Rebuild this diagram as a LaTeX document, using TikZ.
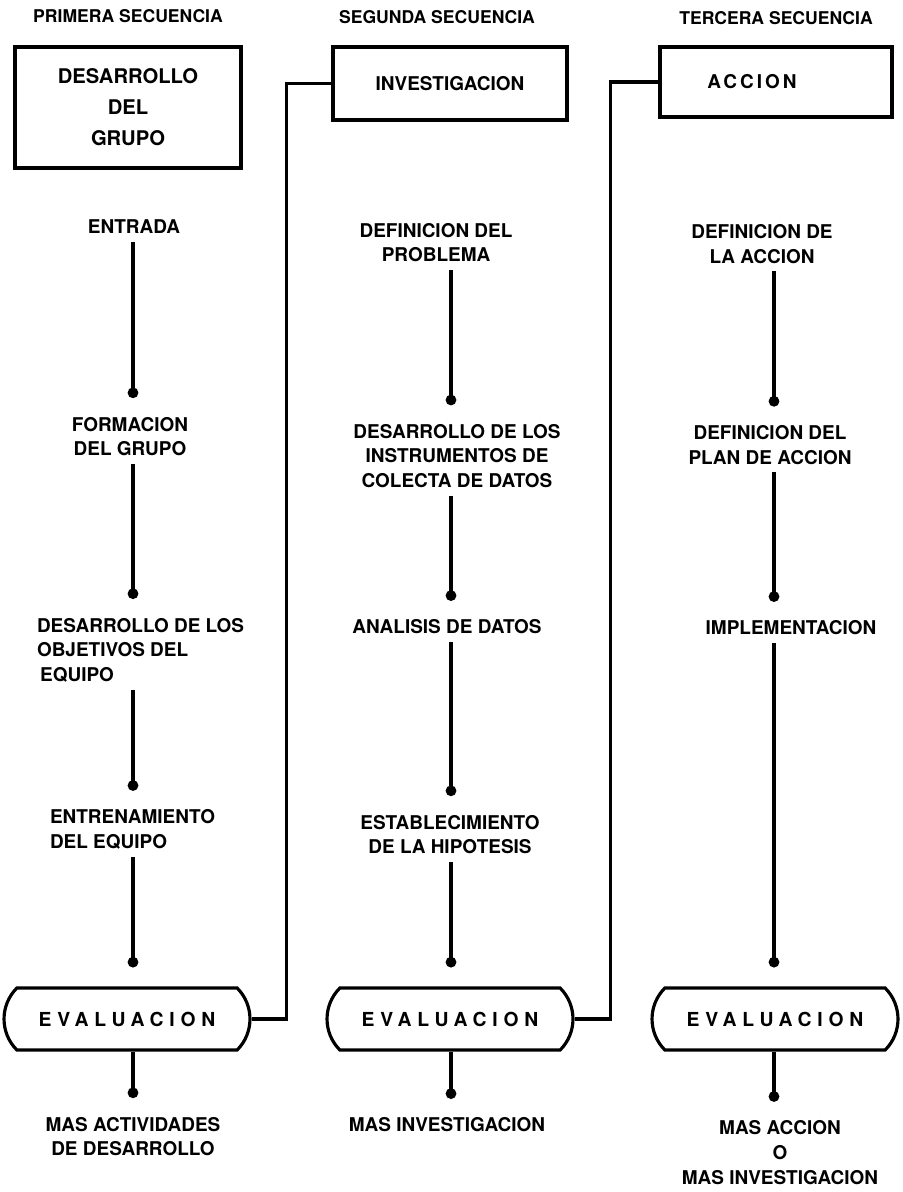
\documentclass[tikz,border=0pt]{standalone}
\usepackage{fontspec}
\setmainfont{TeX Gyre Heros}
\usetikzlibrary{arrows.meta,shapes.misc}

\tikzset{
	titulo/.style={font=\bfseries\fontsize{10}{12}\selectfont, inner sep=0pt},
	paso/.style={font=\bfseries\fontsize{10.8}{14}\selectfont, align=center, inner sep=0pt, outer sep=0pt},
	caja/.style={draw, line width=1.8pt, inner sep=0pt, font=\bfseries\fontsize{10.8}{12}\selectfont},
	evaluacion/.style={draw, line width=1.8pt, rounded rectangle, rounded rectangle arc length=90, minimum width=4.92cm, minimum height=1.24cm, inner sep=0pt, font=\bfseries\fontsize{11}{12}\selectfont\addfontfeature{LetterSpace=30}},
	flecha/.style={line width=2pt, -{Circle[length=6pt]}, shorten <=0.16cm, shorten >=0.38cm},
	enlace/.style={line width=1.8pt},
}

\begin{document}
\begin{tikzpicture}[x=0.02cm, y=-0.02cm]
			%%%%% START %%%%%
			\useasboundingbox (0,0) rectangle (902,1192);
			
			\node[titulo] (t1) at (128,16) {PRIMERA SECUENCIA};
			\node[titulo] (t2) at (437,17) {SEGUNDA SECUENCIA};
			\node[titulo] (t3) at (776,18) {TERCERA SECUENCIA};
			
			\node[caja, minimum width=4.52cm, minimum height=2.42cm, align=center, font=\bfseries\fontsize{11.5}{17.6}\selectfont] (grupo) at (128,107.5) {DESARROLLO\\DEL\\GRUPO};
			\node[caja, minimum width=4.68cm, minimum height=1.46cm] (investigacion) at (450,83.5) {INVESTIGACION};
			\node[caja, minimum width=4.64cm, minimum height=1.40cm] (accion) at (776,82) {\addfontfeature{LetterSpace=16}ACCION\hspace*{0.96cm}};
			
			\coordinate (c1) at (133,0);
			\coordinate (c2) at (451,0);
			\coordinate (c3) at (774,0);
			
			% primera secuencia
			\node[paso] (entrada) at (134,227) {ENTRADA};
			\node[paso] (formacion) at (130,436.5) {FORMACION\\DEL GRUPO};
			\node[paso, align=left, anchor=west] (objetivos) at (37,650) {DESARROLLO DE LOS\\OBJETIVOS DEL\\\,EQUIPO};
			\node[paso, align=left, anchor=west] (entrenamiento) at (50,829.5) {ENTRENAMIENTO\\DEL EQUIPO};
			\node[evaluacion] (eval1) at (127,1019) {EVALUACION};
			\node[paso] (masdes) at (133,1136.5) {MAS ACTIVIDADES\\DE DESARROLLO};
			
			% segunda secuencia
			\node[paso] (problema) at (436,242.5) {DEFINICION DEL\\PROBLEMA};
			\node[paso] (instrumentos) at (457,456) {DESARROLLO DE LOS\\INSTRUMENTOS DE\\COLECTA DE DATOS};
			\node[paso] (analisis) at (447,627) {ANALISIS DE DATOS};
			\node[paso] (hipotesis) at (450,834.5) {ESTABLECIMIENTO\\DE LA HIPOTESIS};
			\node[evaluacion] (eval2) at (450,1019) {EVALUACION};
			\node[paso] (masinv) at (447,1125) {MAS INVESTIGACION};
			
			% tercera secuencia
			\node[paso] (defaccion) at (762,244) {DEFINICION DE\\LA ACCION};
			\node[paso] (plan) at (770,445) {DEFINICION DEL\\PLAN DE ACCION};
			\node[paso] (implementacion) at (791,628) {IMPLEMENTACION};
			\node[evaluacion] (eval3) at (775,1019) {EVALUACION};
			\node[paso] (masaccion) at (780,1152.5) {MAS ACCION\\O\\MAS INVESTIGACION};
			
			\draw[flecha] (entrada.south -| c1) -- (formacion.north -| c1);
			\draw[flecha] (formacion.south -| c1) -- (objetivos.north -| c1);
			\draw[flecha] (objetivos.south -| c1) -- (entrenamiento.north -| c1);
			\draw[flecha] (entrenamiento.south -| c1) -- (eval1.north -| c1);
			\draw[flecha, shorten <=0pt] (eval1.south -| c1) -- (masdes.north -| c1);
			
			\draw[flecha] (problema.south -| c2) -- (instrumentos.north -| c2);
			\draw[flecha] (instrumentos.south -| c2) -- (analisis.north -| c2);
			\draw[flecha] (analisis.south -| c2) -- (hipotesis.north -| c2);
			\draw[flecha] (hipotesis.south -| c2) -- (eval2.north -| c2);
			\draw[flecha, shorten <=0pt] (eval2.south -| c2) -- (masinv.north -| c2);
			
			\draw[flecha] (defaccion.south -| c3) -- (plan.north -| c3);
			\draw[flecha] (plan.south -| c3) -- (implementacion.north -| c3);
			\draw[flecha] (implementacion.south -| c3) -- (eval3.north -| c3);
			\draw[flecha, shorten <=0pt] (eval3.south -| c3) -- (masaccion.north -| c3);
			
			\draw[enlace] (investigacion.west) -- ++(-45,0) |- (eval1.east);
			\draw[enlace] (accion.west) -- ++(-48,0) |- (eval2.east);
			
			%%%%% END %%%%%
\end{tikzpicture}
\end{document}
